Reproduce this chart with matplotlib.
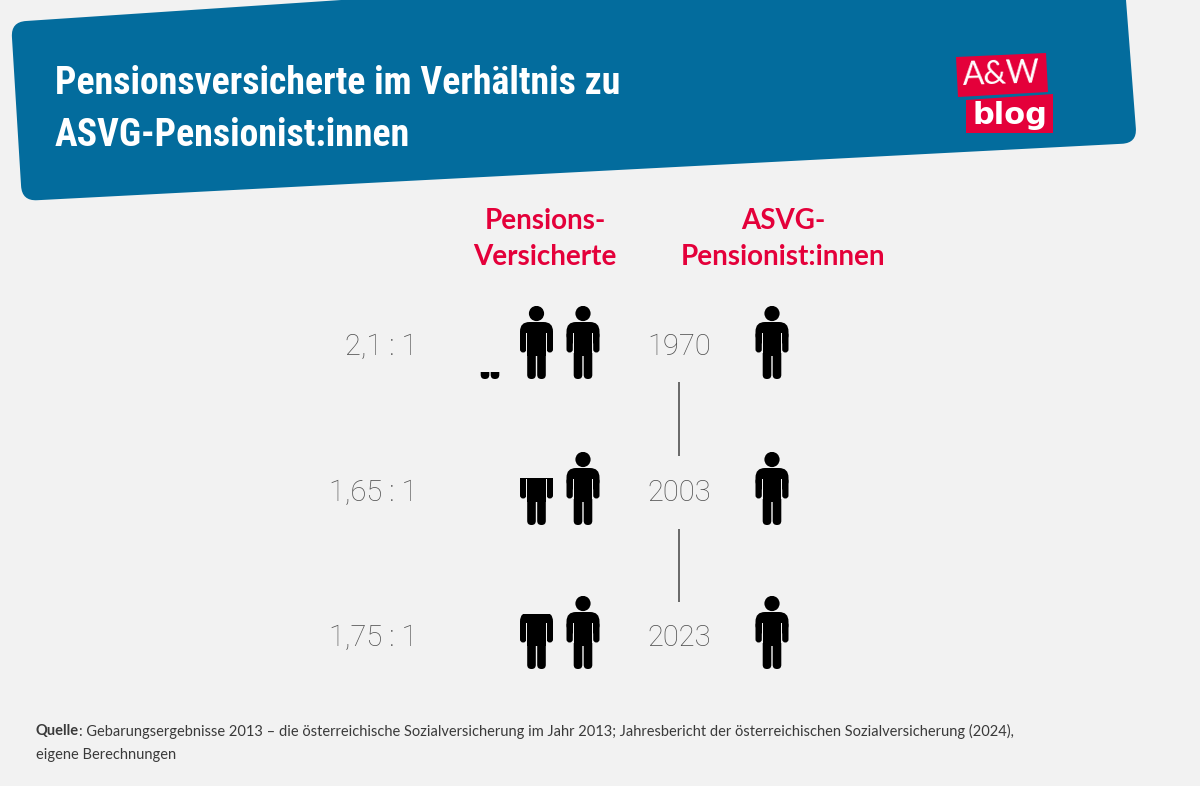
import matplotlib
matplotlib.use("Agg")
import matplotlib.pyplot as plt
import numpy as np
from matplotlib.patches import FancyBboxPatch, Circle, Polygon, PathPatch, Rectangle
from matplotlib.path import Path

title_lines = ["Pensionsversicherte im Verhältnis zu", "ASVG-Pensionist:innen"]
col_left = "Pensions-\nVersicherte"
col_right = "ASVG-\nPensionist:innen"
years = ["1970", "2003", "2023"]
ratios = [2.1, 1.65, 1.75]
ratio_labels = ["2,1 : 1", "1,65 : 1", "1,75 : 1"]
source_bold = "Quelle"
source_1 = ": Gebarungsergebnisse 2013 – die österreichische Sozialversicherung im Jahr 2013; Jahresbericht der österreichischen Sozialversicherung (2024),"
source_2 = "eigene Berechnungen"

BG = "#f2f2f2"; BLUE = "#036c9d"; RED = "#e4003a"; GREY = "#505050"; TXT = "#3a3a3a"
NARROW = "Roboto Condensed"

fig = plt.figure(figsize=(12, 7.86), dpi=100, facecolor=BG)
ax = fig.add_axes([0, 0, 1, 1])
ax.set_xlim(0, 1200); ax.set_ylim(786, 0); ax.axis("off")

C = [(11, 22), (1122, -52), (1137, 143), (22, 201)]
def banner_path(c, r=15):
    verts, codes = [], []
    n = len(c)
    for i in range(n):
        p = np.array(c[i], float); a = np.array(c[i-1], float); b = np.array(c[(i+1) % n], float)
        s = p + (a-p)/np.linalg.norm(a-p)*r; e = p + (b-p)/np.linalg.norm(b-p)*r
        verts += [s, p, e]; codes += [Path.MOVETO if i == 0 else Path.LINETO, Path.CURVE3, Path.CURVE3]
    verts.append(verts[0]); codes.append(Path.CLOSEPOLY)
    return Path(verts, codes)
ax.add_patch(PathPatch(banner_path(C), fc=BLUE, ec="none"))

t1 = ax.text(55, 84, title_lines[0], color="white", fontsize=30, fontweight="bold", family=NARROW, va="center", ha="left")
fig.canvas.draw()
size = 30 * 566 / t1.get_window_extent().width
t1.set_fontsize(size)
ax.text(55, 136, title_lines[1], color="white", fontsize=size, fontweight="bold", family=NARROW, va="center", ha="left")

ax.add_patch(Polygon([(956, 57), (1046, 53), (1048, 92), (958, 97)], fc=RED, ec="none"))
ax.add_patch(Polygon([(966, 100), (1053, 94), (1053, 133), (966, 133)], fc=RED, ec="none"))
ax.text(1001, 75, "A&W", color="white", fontsize=23, family="Lato", ha="center", va="center", rotation=2)
ax.text(1010, 115, "blog", color="white", fontsize=22, family="DejaVu Sans", fontweight="bold", ha="center", va="center")

ax.text(545, 239, col_left, color=RED, fontsize=20, fontweight="bold", family="Lato", ha="center", va="center", linespacing=1.44)
ax.text(783, 239, col_right, color=RED, fontsize=20, fontweight="bold", family="Lato", ha="center", va="center", linespacing=1.44)

def person(cx, top, frac=1.0):
    """Pictogram 33 x 73 px; only the lower `frac` of its height stays visible."""
    H = 73
    clip = Rectangle((cx-20, top + H*(1-frac)), 40, H*frac, transform=ax.transData, fc="none", ec="none")
    ax.add_patch(clip)
    def rb(x0, y0, x1, y1, r):
        return FancyBboxPatch((x0+r, y0+r), x1-x0-2*r, y1-y0-2*r, boxstyle=f"round,pad={r},rounding_size={r}")
    parts = [
        Circle((cx, top+7.5), 7.6),
        rb(cx-16.5, top+16, cx+16.5, top+38, 9.5),
        rb(cx-16.5, top+26, cx-10.2, top+46.5, 3.1),
        rb(cx+10.2, top+26, cx+16.5, top+46.5, 3.1),
        Rectangle((cx-9.3, top+25), 18.6, 25),
        rb(cx-9.3, top+40, cx-0.7, top+73, 4.2),
        rb(cx+0.7, top+40, cx+9.3, top+73, 4.2),
    ]
    for p in parts:
        p.set_facecolor("black"); p.set_edgecolor("none")
        ax.add_patch(p); p.set_clip_path(clip)
    for sx in (cx-10.3, cx+9.3):
        s = Rectangle((sx, top+27), 1.0, 20, fc=BG, ec="none")
        ax.add_patch(s); s.set_clip_path(clip)

row_top = [306, 452, 596]
row_mid = [347, 493, 638]
right_x = 583; gap = 46.5
for yr, r, lab, top, mid in zip(years, ratios, ratio_labels, row_top, row_mid):
    ax.text(417, mid, lab, color=GREY, fontsize=21, family="Roboto", fontweight="light", ha="right", va="center")
    ax.text(679, mid, yr, color=GREY, fontsize=21, family="Roboto", fontweight="light", ha="center", va="center")
    person(772, top)
    n = int(r); frac = r - n
    for i in range(n):
        person(right_x - i*gap, top)
    if frac > 0:
        person(right_x - n*gap, top, frac)

for y0, y1 in [(382, 456), (529, 602)]:
    ax.plot([678.5, 678.5], [y0, y1], color=GREY, lw=1.2, solid_capstyle="butt")

SRC = 10.55
t = ax.text(36, 731, source_bold, color=TXT, fontsize=SRC, fontweight="bold", family="Lato", ha="left", va="center")
fig.canvas.draw()
bb = t.get_window_extent().transformed(ax.transData.inverted())
ax.text(bb.x1, 731, source_1, color=TXT, fontsize=SRC, family="Lato", ha="left", va="center")
ax.text(36, 755, source_2, color=TXT, fontsize=SRC, family="Lato", ha="left", va="center")

fig.savefig("out.png", dpi=100, facecolor=BG)
